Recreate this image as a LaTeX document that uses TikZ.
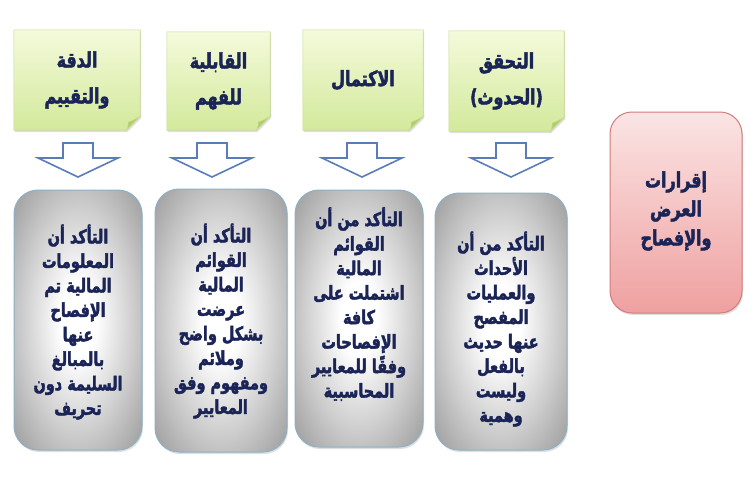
\documentclass[tikz,border=0pt]{standalone}
\usepackage{fontspec}
\newfontfamily\arabicfont[Script=Arabic,FakeStretch=0.76,FakeBold=2.2]{DejaVu Sans}
\TeXXeTstate=1
\usetikzlibrary{shadows,backgrounds}
\newcommand\myrl[1]{\beginR#1\endR}
\definecolor{navy}{HTML}{1A2456}
\definecolor{notetop}{HTML}{F4FADB}
\definecolor{notebot}{HTML}{D3E99B}
\definecolor{noteline}{HTML}{C9DC93}
\definecolor{notefold}{HTML}{B3CD6A}
\definecolor{arrowblue}{HTML}{5A7DBA}
\definecolor{boxline}{HTML}{8DB0C6}
\definecolor{redtop}{HTML}{FBE4E4}
\definecolor{redbot}{HTML}{EFA0A0}
\definecolor{redline}{HTML}{D27C7C}
\pgfdeclareradialshading{boxshade}{\pgfpoint{0bp}{0bp}}{%
  color(0bp)=(white); color(7bp)=(white); color(22bp)=(black!20);
  color(34bp)=(black!37); color(50bp)=(black!46); color(100bp)=(black!46)}
\begin{document}
\begin{tikzpicture}[x=1pt,y=-1pt,
  notetext/.style={draw=none,text=navy,align=center,font=\arabicfont\bfseries\fontsize{21}{36}\selectfont},
  bodytext/.style={draw=none,text=navy,align=center,font=\arabicfont\bfseries\fontsize{19}{24.5}\selectfont},
  graybox/.style={draw=boxline,line width=1pt,rounded corners=24pt,shading=boxshade,
     drop shadow={opacity=0.25,shadow xshift=1pt,shadow yshift=-2pt}},
  redbox/.style={draw=redline,line width=1pt,rounded corners=22pt,top color=redtop,bottom color=redbot,
     drop shadow={opacity=0.25,shadow xshift=1pt,shadow yshift=-2pt}},
  notefill/.style={draw=noteline,line width=0.6pt,top color=notetop,bottom color=notebot,
     drop shadow={opacity=0.25,shadow xshift=1pt,shadow yshift=-2pt}},
  foldfill/.style={fill=notefold,draw=noteline,line width=0.5pt},
  hollowarrow/.style={draw=arrowblue,line width=1.6pt,fill=white,line join=miter},
]
\useasboundingbox (0,0) rectangle (750,482);

% top notes
\node[notetext,minimum width=126,minimum height=100] (n1) at (77,80) {\myrl{الدقة}\\\myrl{والتقييم}};
\node[notetext,minimum width=103,minimum height=98] (n2) at (218.5,81) {\myrl{القابلية}\\\myrl{للفهم}};
\node[notetext,minimum width=120,minimum height=100] (n3) at (363,80) {\myrl{الاكتمال}};
\node[notetext,minimum width=115,minimum height=100] (n4) at (506.5,81) {\myrl{التحقق}\\\myrl{(الحدوث)}};

\begin{pgfonlayer}{background}
\fill[white] (0,0) rectangle (750,482);
\foreach \n in {n1,n2,n3,n4}{
  \path[notefill] (\n.north west) -- (\n.north east) -- ([yshift=14pt]\n.south east)
     -- ([xshift=-14pt]\n.south east) -- (\n.south west) -- cycle;
  \path[foldfill] ([yshift=14pt]\n.south east) .. controls ([xshift=-5pt,yshift=11pt]\n.south east) .. ([xshift=-12pt,yshift=8pt]\n.south east)
     .. controls ([xshift=-12pt,yshift=4pt]\n.south east) .. ([xshift=-14pt]\n.south east) -- cycle;
}
\end{pgfonlayer}

% hollow arrows
\foreach \c/\nm in {78/a1,212/a2,362/a3,511/a4}{
  \coordinate (\nm) at (\c,160);
  \path[hollowarrow] ([shift={(-15,-17)}]\nm) -- ([shift={(15,-17)}]\nm) -- ([shift={(15,-2)}]\nm)
    -- ([shift={(40,-2)}]\nm) -- ([shift={(0,17)}]\nm) -- ([shift={(-40,-2)}]\nm)
    -- ([shift={(-15,-2)}]\nm) -- cycle;
}

% bottom boxes
\node[graybox,minimum width=128,minimum height=260] (b1) at (78,320) {};
\node[graybox,minimum width=132,minimum height=263] (b2) at (221,320.5) {};
\node[graybox,minimum width=128,minimum height=257] (b3) at (359,318.5) {};
\node[graybox,minimum width=132,minimum height=257] (b4) at (501,321.5) {};

\node[bodytext] (t1) at (78,322) {\myrl{التأكد أن}\\\myrl{المعلومات}\\\myrl{المالية تم}\\\myrl{الإفصاح}\\\myrl{عنها}\\\myrl{بالمبالغ}\\\myrl{السليمة دون}\\\myrl{تحريف}};
\node[bodytext] (t2) at (221,321) {\myrl{التأكد أن}\\\myrl{القوائم}\\\myrl{المالية}\\\myrl{عرضت}\\\myrl{بشكل واضح}\\\myrl{وملائم}\\\myrl{ومفهوم وفق}\\\myrl{المعايير}};
\node[bodytext] (t3) at (359,304) {\myrl{التأكد من أن}\\\myrl{القوائم}\\\myrl{المالية}\\\myrl{اشتملت على}\\\myrl{كافة}\\\myrl{الإفصاحات}\\\myrl{وفقًا للمعايير}\\\myrl{المحاسبية}};
\node[bodytext] (t4) at (501,329) {\myrl{التأكد من أن}\\\myrl{الأحداث}\\\myrl{والعمليات}\\\myrl{المفصح}\\\myrl{عنها حديث}\\\myrl{بالفعل}\\\myrl{وليست}\\\myrl{وهمية}};

% red box
\node[redbox,minimum width=132,minimum height=201] (r) at (676,212.5) {};
\node[bodytext,font=\arabicfont\bfseries\fontsize{21}{29}\selectfont] (rt) at (676,211) {\myrl{إقرارات}\\\myrl{العرض}\\\myrl{والإفصاح}};
\end{tikzpicture}
\end{document}
